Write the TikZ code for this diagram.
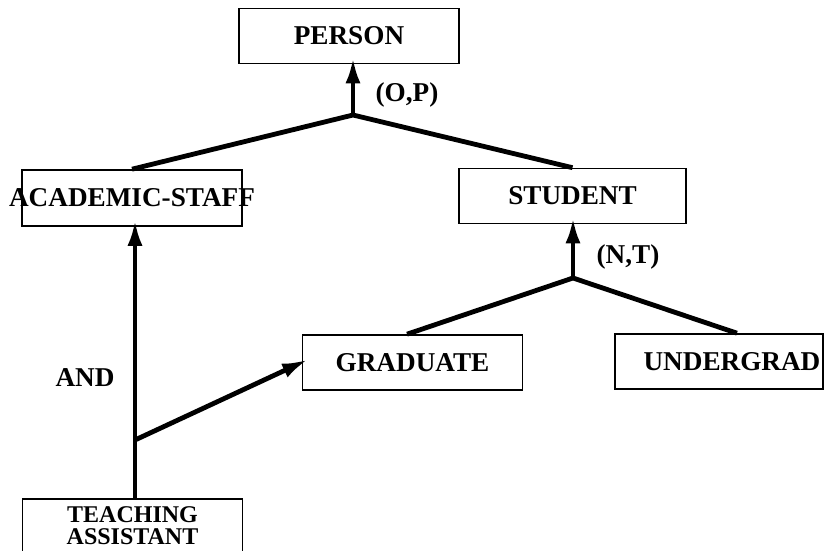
\documentclass[tikz,border=0pt]{standalone}
\usepackage{fontspec}
\setmainfont{Liberation Serif}
\usetikzlibrary{arrows.meta}
\begin{document}
\begin{tikzpicture}[x=0.5pt,y=-0.5pt,
    box/.style={draw, line width=0.8pt, minimum width=110pt, minimum height=27.5pt,
      inner sep=0pt, font=\fontsize{13.6}{15}\selectfont\bfseries},
    link/.style={line width=2.4pt},
    arr/.style={link, -{Latex[length=13pt,width=7.5pt]}, shorten >=-3.5pt},
    tag/.style={font=\fontsize{13.6}{15}\selectfont\bfseries}]
  \useasboundingbox (0,0) rectangle (825,551);
  \node[box] (person) at (349,36) {PERSON};
  \node[box, minimum height=28pt] (acad) at (132,198) {\makebox[0pt]{ACADEMIC-STAFF}};
  \node[box, minimum width=113.5pt] (student) at (572.5,196) {STUDENT};
  \node[box] (grad) at (412.5,362.5) {GRADUATE};
  \node[box, minimum width=104pt] (under) at (719,361.5)
    {\makebox[0pt]{\hspace{13pt}UNDERGRAD}};
  \node[box, minimum height=27pt, font=\fontsize{12}{9}\selectfont\bfseries] (ta) at (132.5,526)
    {\shortstack{TEACHING\\ASSISTANT}};
  \coordinate (op) at (353,115);
  \coordinate (nt) at (573,278);
  \coordinate (join) at (135,440);
  \draw[arr] (op) -- (op |- person.south);
  \draw[link] (acad.north) -- (op) -- (student.north);
  \draw[arr] (nt) -- (nt |- student.south);
  \draw[link] ([xshift=-2.75pt]grad.north) -- (nt) -- ([xshift=9pt]under.north);
  \draw[arr] (ta.north -| join) -- (join |- acad.south);
  \draw[arr] (join) -- (grad.west);
  \node[tag] (andlabel) at (85,378) {AND};
  \node[tag] (oplabel) at (407,95) {(O,P)};
  \node[tag] (ntlabel) at (628,257) {(N,T)};
\end{tikzpicture}
\end{document}
